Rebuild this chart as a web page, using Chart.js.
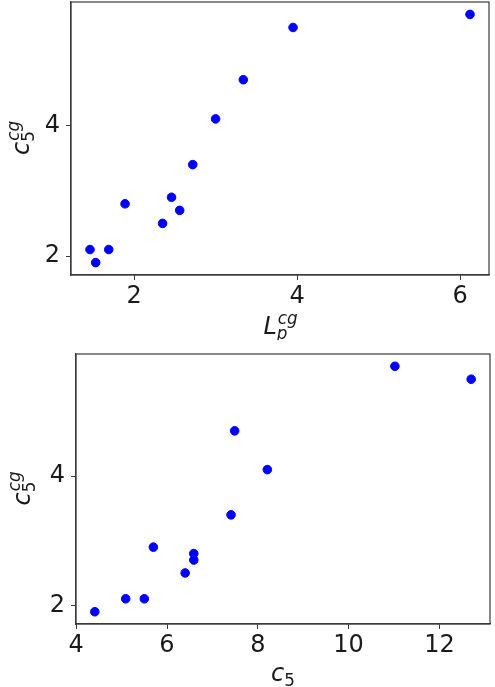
<!DOCTYPE html>
<html>
<head>
<meta charset="utf-8">
<script src="https://cdn.jsdelivr.net/npm/chart.js@4.4.0/dist/chart.umd.min.js"></script>
<style>
  body { margin: 0; background: #fff; }
  .wrap { position: absolute; left: 0; width: 495px; }
  #top { top: 0; height: 340px; }
  #bottom { top: 340px; height: 347px; }
</style>
</head>
<body>
<div class="wrap" id="top"><canvas id="chartTop" width="495" height="340"></canvas></div>
<div class="wrap" id="bottom"><canvas id="chartBottom" width="495" height="347"></canvas></div>
<script>
// shared y values (c5^cg) with the two x series in the same order
const c5cg = [1.9, 2.1, 2.1, 2.5, 2.7, 2.8, 2.9, 3.4, 4.1, 4.7, 5.5, 5.7];
const lpcg = [1.53, 1.46, 1.69, 2.35, 2.56, 1.89, 2.46, 2.72, 3.0, 3.34, 3.95, 6.12];
const c5 = [4.41, 5.09, 5.5, 6.4, 6.59, 6.59, 5.7, 7.41, 8.21, 7.49, 12.7, 11.02];

const topXTicks = [2, 4, 6];
const bottomXTicks = [4, 6, 8, 10, 12];
const yTicks = [2, 4];

const FONT = "DejaVu Sans";
const TEXT = "#1a1a1a";
const EDGE = "#3a3a3a";

// matplotlib style 5% margins
function limits(vals) {
  const lo = Math.min(...vals), hi = Math.max(...vals);
  const pad = (hi - lo) * 0.05;
  return [lo - pad, hi + pad];
}

// draw label like c_5^{cg}
function mathLabel(ctx, cx, cy, base, sub, sup, size, rotated) {
  const small = size * 0.7;
  const fBase = "italic " + size + "px " + FONT;
  const fSub = (/\d/.test(sub) ? "" : "italic ") + small + "px " + FONT;
  const fSup = "italic " + small + "px " + FONT;
  ctx.save();
  ctx.translate(cx, cy);
  if (rotated) ctx.rotate(-Math.PI / 2);
  ctx.fillStyle = TEXT;
  ctx.textBaseline = "alphabetic";
  ctx.textAlign = "left";
  ctx.font = fBase;
  const wb = ctx.measureText(base).width;
  ctx.font = fSub;
  const ws = ctx.measureText(sub).width;
  ctx.font = fSup;
  const wp = sup ? ctx.measureText(sup).width : 0;
  const total = wb + Math.max(ws, wp);
  const x0 = -total / 2;
  const baseline = size * 0.3;
  ctx.font = fBase;
  ctx.fillText(base, x0, baseline);
  ctx.font = fSub;
  ctx.fillText(sub, x0 + wb, baseline + size * 0.22);
  if (sup) {
    ctx.font = fSup;
    ctx.fillText(sup, x0 + wb + 1, baseline - size * 0.42);
  }
  ctx.restore();
}

const framePlugin = {
  id: "frame",
  afterDraw(chart) {
    const { ctx, chartArea: a } = chart;
    ctx.save();
    ctx.strokeStyle = EDGE;
    ctx.lineWidth = 1.2;
    ctx.strokeRect(a.left, a.top, a.right - a.left, a.bottom - a.top);
    ctx.restore();
    const o = chart.options.plugins.frame;
    mathLabel(ctx, (a.left + a.right) / 2, a.bottom + o.xOffset, o.x[0], o.x[1], o.x[2], 24, false);
    mathLabel(ctx, o.yOffset, (a.top + a.bottom) / 2, o.y[0], o.y[1], o.y[2], 24, true);
  }
};

function noPad(s) {
  s.paddingTop = 0; s.paddingBottom = 0; s.paddingLeft = 0; s.paddingRight = 0;
}

function makeChart(id, xs, xTicks, xLab, pad, yWidth, xHeight, xOffset, yOffset) {
  const xl = limits(xs), yl = limits(c5cg);
  return new Chart(document.getElementById(id), {
    type: "scatter",
    data: {
      datasets: [{
        data: xs.map((x, i) => ({ x: x, y: c5cg[i] })),
        backgroundColor: "#0000ff",
        borderColor: "#0000ff",
        pointRadius: 4.3,
        pointHoverRadius: 4.3
      }]
    },
    options: {
      responsive: false,
      animation: false,
      layout: { padding: pad, autoPadding: false },
      plugins: {
        legend: { display: false },
        tooltip: { enabled: false },
        frame: { x: xLab, y: ["c", "5", "cg"], xOffset: xOffset, yOffset: yOffset }
      },
      scales: {
        x: {
          type: "linear",
          min: xl[0],
          max: xl[1],
          afterBuildTicks: (s) => { s.ticks = xTicks.map((v) => ({ value: v })); },
          afterFit: (s) => { s.height = xHeight; noPad(s); },
          grid: { display: true, drawOnChartArea: false, tickLength: 5, color: EDGE },
          border: { display: true, color: EDGE, width: 1.2 },
          ticks: { color: TEXT, font: { family: FONT, size: 24 }, padding: 2, maxRotation: 0 }
        },
        y: {
          type: "linear",
          min: yl[0],
          max: yl[1],
          afterBuildTicks: (s) => { s.ticks = yTicks.map((v) => ({ value: v })); },
          afterFit: (s) => { s.width = yWidth; noPad(s); },
          grid: { display: true, drawOnChartArea: false, tickLength: 5, color: EDGE },
          border: { display: true, color: EDGE, width: 1.2 },
          ticks: { color: TEXT, font: { family: FONT, size: 24 }, padding: 6 }
        }
      }
    },
    plugins: [framePlugin]
  });
}

makeChart("chartTop", lpcg, topXTicks, ["L", "p", "cg"], { top: 2, right: 6, left: 0, bottom: 0 }, 71, 65, 52, 22);
makeChart("chartBottom", c5, bottomXTicks, ["c", "5", ""], { top: 14, right: 5, left: 0, bottom: 0 }, 76, 63, 50, 23);
</script>
</body>
</html>
